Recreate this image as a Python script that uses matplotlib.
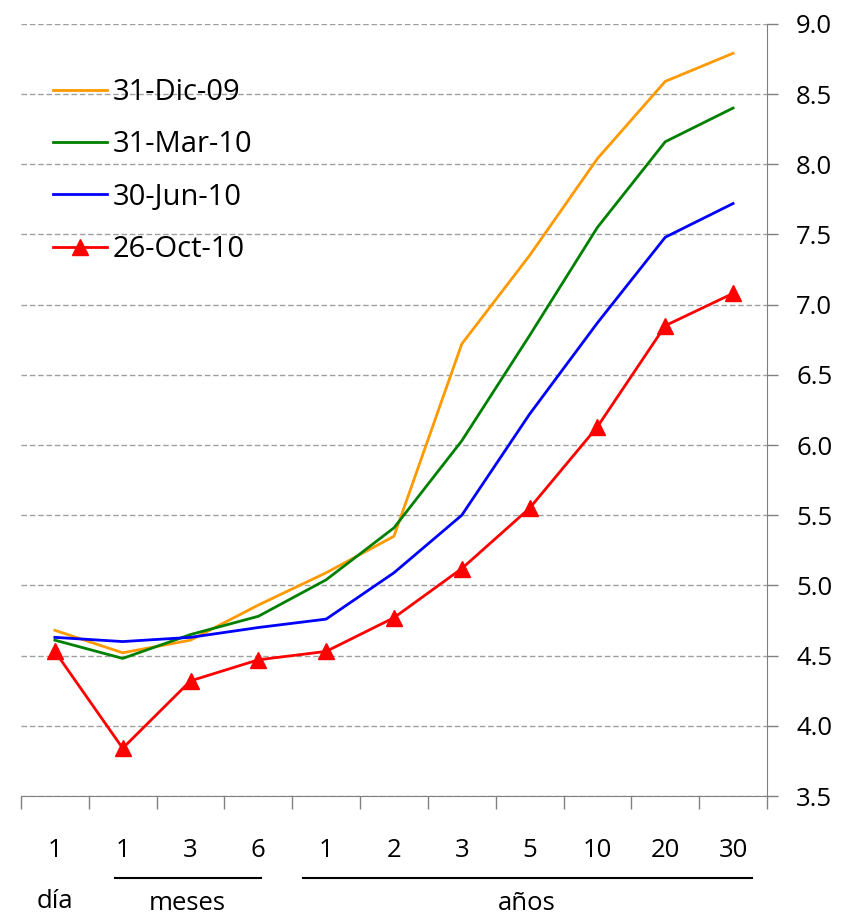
import matplotlib
matplotlib.use("Agg")
import matplotlib.pyplot as plt

# data
tenors = ["1", "1", "3", "6", "1", "2", "3", "5", "10", "20", "30"]
series_names = ["31-Dic-09", "31-Mar-10", "30-Jun-10", "26-Oct-10"]
dic09 = [4.68, 4.52, 4.61, 4.86, 5.09, 5.35, 6.72, 7.35, 8.04, 8.59, 8.79]
mar10 = [4.61, 4.48, 4.65, 4.78, 5.04, 5.41, 6.03, 6.78, 7.55, 8.16, 8.40]
jun10 = [4.63, 4.60, 4.63, 4.70, 4.76, 5.09, 5.50, 6.22, 6.87, 7.48, 7.72]
oct10 = [4.53, 3.84, 4.32, 4.47, 4.53, 4.77, 5.12, 5.55, 6.13, 6.85, 7.08]
groups = ["día", "meses", "años"]

plt.rcParams["font.family"] = ["Open Sans", "DejaVu Sans"]

fig = plt.figure(figsize=(8.52, 9.16), dpi=100)
ax = fig.add_axes([0.0246, 0.131, 0.8756, 0.843])

x = [i + 0.5 for i in range(len(tenors))]
ax.plot(x, dic09, color="#FF9900", lw=2.0, label=series_names[0])
ax.plot(x, mar10, color="#008000", lw=2.0, label=series_names[1])
ax.plot(x, jun10, color="#0000FF", lw=2.0, label=series_names[2])
ax.plot(x, oct10, color="#FF0000", lw=2.0, marker="^", markersize=11,
        label=series_names[3])

ax.set_xlim(0, len(tenors))
ax.set_ylim(3.5, 9.0)

# y axis on the right
ax.yaxis.tick_right()
ax.set_yticks([3.5 + 0.5 * i for i in range(12)])
ax.set_yticklabels(["%.1f" % (3.5 + 0.5 * i) for i in range(12)])
ax.tick_params(axis="y", direction="out", length=8, width=1, color="#808080",
               labelsize=18.5, pad=13)
ax.grid(axis="y", linestyle=(0, (4, 2)), color="#A0A0A0", lw=1)

# x labels centered, ticks at boundaries
ax.set_xticks(x)
ax.set_xticklabels(tenors)
ax.set_xticks(range(len(tenors) + 1), minor=True)
ax.tick_params(axis="x", which="major", length=0, labelsize=18.5, pad=30)
ax.tick_params(axis="x", which="minor", direction="out", length=9, width=1,
               color="#808080")

for s in ["left", "top"]:
    ax.spines[s].set_visible(False)
for s in ["right", "bottom"]:
    ax.spines[s].set_color("#808080")

# group labels below the tenors
tr = ax.get_xaxis_transform()
ax.text(0.5, -0.136, groups[0], transform=tr, ha="center", va="center", fontsize=18.5)
ax.text(2.45, -0.139, groups[1], transform=tr, ha="center", va="center", fontsize=18.5)
ax.text(7.46, -0.139, groups[2], transform=tr, ha="center", va="center", fontsize=18.5)
ax.plot([1.39, 3.54], [-0.106, -0.106], transform=tr, color="black", lw=1.5,
        clip_on=False)
ax.plot([4.16, 10.78], [-0.106, -0.106], transform=tr, color="black", lw=1.5,
        clip_on=False)

ax.legend(loc="upper left", bbox_to_anchor=(0.043, 0.93), frameon=False,
          fontsize=21, handlelength=1.85, handletextpad=0.2, labelspacing=0.8,
          borderaxespad=0, borderpad=0)

fig.savefig("out.png", dpi=100)
